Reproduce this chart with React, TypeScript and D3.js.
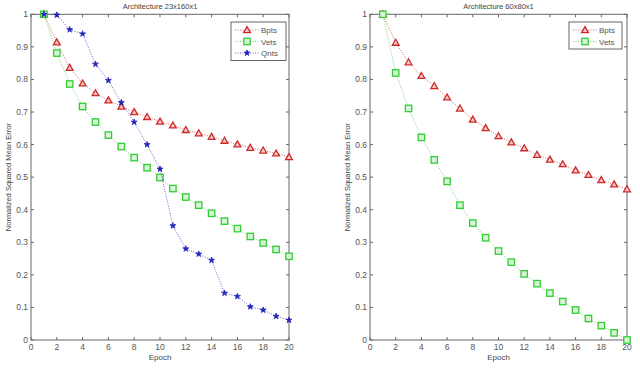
import { useEffect, useRef } from "react";
import * as d3 from "d3";

const epochs = d3.range(1, 21);

// Architecture 23x160x1
const leftBpts = [1.0, 0.914, 0.836, 0.788, 0.758, 0.736, 0.717, 0.7, 0.685, 0.671, 0.659, 0.645, 0.635, 0.624, 0.612, 0.601, 0.59, 0.582, 0.573, 0.562];
const leftVets = [1.0, 0.881, 0.786, 0.717, 0.669, 0.629, 0.594, 0.56, 0.529, 0.499, 0.465, 0.439, 0.414, 0.389, 0.365, 0.342, 0.318, 0.298, 0.278, 0.257];
const leftQnts = [1.0, 0.998, 0.953, 0.94, 0.847, 0.797, 0.729, 0.669, 0.6, 0.525, 0.351, 0.28, 0.264, 0.245, 0.144, 0.134, 0.102, 0.092, 0.073, 0.061];

// Architecture 60x80x1
const rightBpts = [1.0, 0.913, 0.853, 0.811, 0.78, 0.745, 0.711, 0.677, 0.651, 0.626, 0.607, 0.589, 0.569, 0.554, 0.54, 0.521, 0.507, 0.491, 0.478, 0.463];
const rightVets = [1.0, 0.82, 0.711, 0.622, 0.553, 0.487, 0.414, 0.359, 0.314, 0.273, 0.239, 0.203, 0.173, 0.144, 0.118, 0.092, 0.066, 0.044, 0.022, 0.0];

const xTicks = d3.range(0, 21, 2);
const yTicks = d3.range(0, 11).map(d => d / 10);

type Series = { name: string; values: number[]; color: string; fill: string; marker: string };

const font = "'Liberation Sans', Arial, sans-serif";
const axisColor = "#666";

function drawMarker(g: any, kind: string, color: string, fill: string) {
    if (kind === "triangle") {
        g.append("path").attr("d", "M0,-3.4L3.4,2.6L-3.4,2.6Z")
            .attr("fill", fill).attr("stroke", color).attr("stroke-width", 1.3);
    } else if (kind === "square") {
        g.append("rect").attr("x", -3.2).attr("y", -3.2).attr("width", 6.4).attr("height", 6.4)
            .attr("fill", fill).attr("stroke", color).attr("stroke-width", 1.3);
    } else {
        g.append("path").attr("d", d3.symbol(d3.symbolStar, 11)())
            .attr("fill", color).attr("stroke", color).attr("stroke-width", 0.8);
    }
}

function drawPanel(svg: any, left: number, right: number, title: string, series: Series[], legend: { x: number; y: number; w: number }) {
    const top = 14.3;
    const bottom = 340;
    const x = d3.scaleLinear().domain([0, 20]).range([left, right]);
    const y = d3.scaleLinear().domain([0, 1]).range([bottom, top]);
    const g = svg.append("g");

    // frame
    g.append("rect").attr("x", left).attr("y", top).attr("width", right - left).attr("height", bottom - top)
        .attr("fill", "white").attr("stroke", axisColor).attr("stroke-width", 1);

    // ticks on all four sides, pointing inwards
    xTicks.forEach(t => {
        g.append("line").attr("x1", x(t)).attr("x2", x(t)).attr("y1", bottom).attr("y2", bottom - 3).attr("stroke", axisColor);
        g.append("line").attr("x1", x(t)).attr("x2", x(t)).attr("y1", top).attr("y2", top + 3).attr("stroke", axisColor);
        g.append("text").attr("x", x(t)).attr("y", bottom + 10).attr("text-anchor", "middle")
            .attr("font-family", font).attr("font-size", 8.5).attr("fill", "#555").text(t);
    });
    yTicks.forEach(t => {
        g.append("line").attr("x1", left).attr("x2", left + 3).attr("y1", y(t)).attr("y2", y(t)).attr("stroke", axisColor);
        g.append("line").attr("x1", right).attr("x2", right - 3).attr("y1", y(t)).attr("y2", y(t)).attr("stroke", axisColor);
        g.append("text").attr("x", left - 3).attr("y", y(t) + 3).attr("text-anchor", "end")
            .attr("font-family", font).attr("font-size", 8.5).attr("fill", "#555").text(t);
    });

    g.append("text").attr("x", (left + right) / 2).attr("y", 9).attr("text-anchor", "middle")
        .attr("font-family", font).attr("font-size", 7.5).attr("fill", "#444").text(title);
    g.append("text").attr("x", (left + right) / 2).attr("y", 360).attr("text-anchor", "middle")
        .attr("font-family", font).attr("font-size", 8).attr("fill", "#444").text("Epoch");
    g.append("text").attr("transform", `translate(${left - 20},${(top + bottom) / 2}) rotate(-90)`)
        .attr("text-anchor", "middle").attr("font-family", font).attr("font-size", 7.5).attr("fill", "#444")
        .text("Normalized Squared Mean Error");

    const line = d3.line<number>().x((_, i) => x(epochs[i])).y(d => y(d));
    series.forEach(s => {
        g.append("path").attr("d", line(s.values)).attr("fill", "none").attr("stroke", s.color)
            .attr("stroke-width", 1).attr("stroke-dasharray", "1,1.5").attr("opacity", 0.7);
        s.values.forEach((v, i) => {
            const m = g.append("g").attr("transform", `translate(${x(epochs[i])},${y(v)})`);
            drawMarker(m, s.marker, s.color, s.fill);
        });
    });

    // legend
    const rowH = 11.5;
    const lh = series.length * rowH + 4;
    const lg = g.append("g").attr("transform", `translate(${legend.x},${legend.y})`);
    lg.append("rect").attr("width", legend.w).attr("height", lh).attr("fill", "white").attr("stroke", axisColor);
    series.forEach((s, i) => {
        const cy = 8 + i * rowH;
        lg.append("line").attr("x1", 4).attr("x2", 28).attr("y1", cy).attr("y2", cy)
            .attr("stroke", s.color).attr("stroke-dasharray", "1,1.5").attr("opacity", 0.7);
        const m = lg.append("g").attr("transform", `translate(16,${cy})`);
        drawMarker(m, s.marker, s.color, s.fill);
        lg.append("text").attr("x", 30).attr("y", cy + 3).attr("font-family", font).attr("font-size", 8)
            .attr("fill", "#555").text(s.name);
    });
}

export default function App() {
    const chart = useRef<SVGSVGElement>(null);

    useEffect(() => {
        const svg = d3.select(chart.current);
        svg.selectAll("*").remove();
        svg.append("rect").attr("width", 640).attr("height", 368).attr("fill", "white");

        const red = "#cc2a2a";
        const green = "#33cc33";
        const blue = "#2222bb";

        drawPanel(svg, 31, 289, "Architecture 23x160x1", [
            { name: "Bpts", values: leftBpts, color: red, fill: "#f4c8c8", marker: "triangle" },
            { name: "Vets", values: leftVets, color: green, fill: "#d8f4d8", marker: "square" },
            { name: "Qnts", values: leftQnts, color: blue, fill: blue, marker: "star" },
        ], { x: 231, y: 22, w: 55 });

        drawPanel(svg, 370, 627, "Architecture 60x80x1", [
            { name: "Bpts", values: rightBpts, color: red, fill: "#f4c8c8", marker: "triangle" },
            { name: "Vets", values: rightVets, color: green, fill: "#d8f4d8", marker: "square" },
        ], { x: 569, y: 22, w: 53 });
    }, []);

    return (
        <div style={{ position: "absolute", left: 0, top: 0 }}>
            <svg ref={chart} width={640} height={368} style={{ display: "block" }} />
        </div>
    );
}
